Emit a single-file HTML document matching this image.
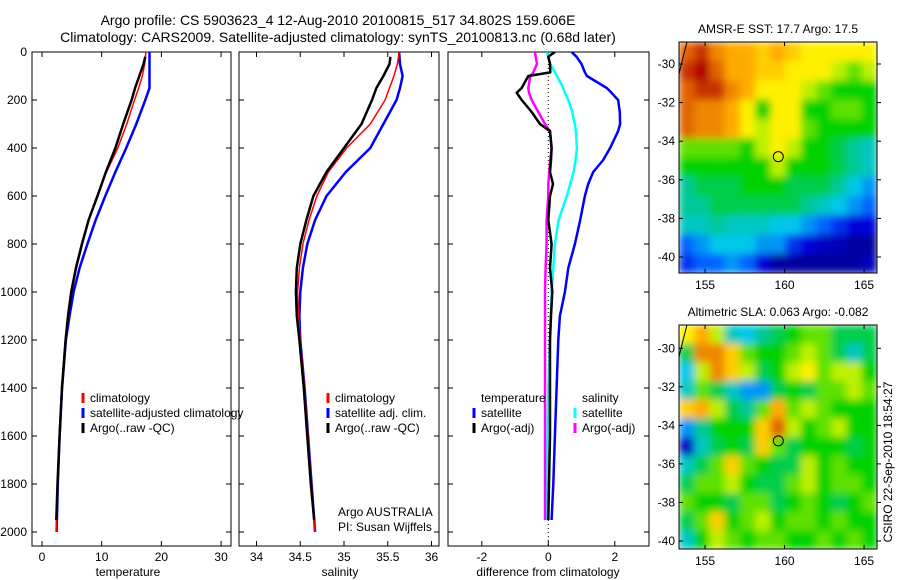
<!DOCTYPE html>
<html><head><meta charset="utf-8"><style>
body{margin:0;background:#fff;}
svg{display:block;font-family:"Liberation Sans",sans-serif;}
text{fill:#000;}
</style></head><body>
<svg id="chart" width="900" height="580" viewBox="0 0 900 580" xmlns="http://www.w3.org/2000/svg">
<defs>
<clipPath id="c1"><rect x="32" y="52" width="199" height="494"/></clipPath>
<clipPath id="c2"><rect x="239" y="52" width="200" height="494"/></clipPath>
<clipPath id="c3"><rect x="448" y="52" width="201" height="494"/></clipPath>
<clipPath id="cm1"><rect x="679" y="42" width="198" height="231"/></clipPath>
<clipPath id="cm2"><rect x="679" y="325" width="198" height="224"/></clipPath>
<filter id="bl" x="0" y="0" width="1" height="1"><feGaussianBlur stdDeviation="4" edgeMode="duplicate"/></filter>
</defs>
<text x="338" y="25" font-size="14" text-anchor="middle">Argo profile: CS 5903623_4 12-Aug-2010 20100815_517 34.802S 159.606E</text>
<text x="338" y="42" font-size="14" text-anchor="middle">Climatology: CARS2009. Satellite-adjusted climatology: synTS_20100813.nc (0.68d later)</text>
<g id="g"></g>
</svg>
<script>
// ---- data ----
const depthT = [0,50,100,150,200,300,400,500,600,700,800,900,1000,1100,1200,1400,1600,1800,2000];
const tempClim = [17.4,17.2,16.8,16.2,15.5,14.2,12.7,10.8,9.2,7.8,6.6,5.6,4.8,4.3,3.9,3.3,2.9,2.6,2.4];
const tempSat = [18.0,18.0,18.0,18.0,17.3,15.8,14.1,12.3,10.6,9.0,7.6,6.3,5.3,4.6,4.0,3.35,2.95,2.65,2.45];
const depthArgo = [20,50,100,150,200,300,400,500,600,700,800,900,1000,1100,1200,1400,1600,1800,1950];
const tempArgo = [17.3,17.0,16.3,15.6,15.0,13.6,12.3,10.7,9.3,7.8,6.7,5.7,4.9,4.35,3.95,3.35,2.95,2.6,2.4];
const salClim = [35.63,35.61,35.57,35.52,35.47,35.3,35.03,34.82,34.69,34.6,34.53,34.49,34.47,34.48,34.5,34.55,34.59,34.63,34.67];
const salSat = [35.63,35.64,35.67,35.64,35.6,35.45,35.3,35.02,34.8,34.67,34.58,34.53,34.5,34.49,34.5,34.55,34.59,34.63,34.67];
const salArgo = [35.53,35.52,35.45,35.37,35.32,35.2,35.0,34.8,34.65,34.57,34.5,34.46,34.45,34.46,34.49,34.54,34.58,34.62,34.66];
const dDepth = [0,20,50,85,100,150,170,200,250,300,330,400,450,500,550,600,700,800,900,1000,1100,1200,1400,1600,1800,1950];
const dTempSat = [0.7,0.85,1.0,1.1,1.16,1.76,1.9,2.1,2.15,2.16,2.1,1.86,1.65,1.35,1.2,1.1,0.96,0.8,0.6,0.5,0.35,0.3,0.25,0.2,0.15,0.1];
const dSalSat = [-0.04,0.0,0.06,0.2,0.26,0.45,0.5,0.6,0.72,0.8,0.83,0.86,0.82,0.76,0.66,0.56,0.31,0.2,0.15,0.1,0.07,0.05,0.0,-0.02,-0.04,-0.05];
const dTempArgo = [0.2,0.0,0.05,0.06,-0.6,-0.8,-0.95,-0.8,-0.5,-0.25,0.05,0.1,0.08,0.05,0.14,0.05,0.0,0.1,0.05,0.12,0.08,0.05,0.05,0.05,0.02,0.0];
const dSalArgo = [-0.4,-0.38,-0.34,-0.45,-0.54,-0.6,-0.58,-0.5,-0.3,-0.1,0.05,0.1,0.06,0.03,0.0,0.0,-0.05,-0.05,-0.08,-0.1,-0.1,-0.1,-0.1,-0.1,-0.1,-0.1];
const depthTicks = [0,200,400,600,800,1000,1200,1400,1600,1800,2000];
const tempTicks = [0,10,20,30];
const salTicks = [34,34.5,35,35.5,36];
const salTickLabels = ["34","34.5","35","35.5","36"];
const diffTicks = [-2,0,2];
const sstGrid = [
[9,9.5,8.5,8,8,7.5,8,7.5,7,7,7,7,7],
[9.5,10,9,8,8,7.5,7.5,7,7,7,6.5,6,6.5],
[9,9.5,9.5,8.5,8,7,7,7,6.5,6,5.5,5.5,5.5],
[9,8.5,8.5,8,7,5.5,7,7,5.5,5.5,6,6,5.5],
[9,8.5,8.5,8,7,6.5,7,7,6,5.5,5.5,5.5,5.5],
[6,6,6,6,5.5,6.5,7,6.5,5.5,5.5,5,4.5,4],
[5.5,5.5,5.5,5.5,5.5,5.5,6.5,5.5,5.5,5.5,5,4.5,4],
[4.5,5,5,5,5.5,5.5,5.5,5,5,5,4.5,3.5,3],
[4.5,4.5,5,5,5,5,5,5,4.5,4,3.5,3,2.5],
[4,4,4.5,4,4,4,3.5,3.5,3,2.5,2,1.5,1.5],
[2.5,3,3.5,3.5,3.5,3,3,2,1.5,1,1,0.5,0.5],
[2,2.5,2.5,3,2.5,1.5,0.5,0.5,0.5,0.5,0.5,0.5,1]];
const slaGrid = [
[7,8,6.5,4,3.5,4.5,5,5.5,6,6,5,5,5],
[5,8.5,8.5,7.5,6,5.5,5.5,6,6.5,6,5,4,5],
[3.5,6.5,8.5,7.5,6.5,5,5.5,6.5,7,6,6.5,6.5,5.5],
[4,6,5,4,3,3,5,5.5,5,6,6,6.5,6],
[7.5,8,6.5,5,4.5,6,8,6,6.5,6,5.5,5.5,5.5],
[3,4.5,5.5,5.5,5.5,7.5,9,6.5,5.5,6,6.5,5.5,5.5],
[1,4,5,5.5,5,7.5,6,5,5.5,5.5,5.5,5,5.5],
[4,5,6,7.5,6,5.5,5,5,6.5,5.5,6,5.5,5.5],
[5,6,6,6.5,5.5,5,5,6,6.5,5.5,6,6,5.5],
[6,5.5,5.5,5,6,6,5,5.5,6,5.5,5,5.5,6],
[5,6,7.5,5.5,6,6.5,5.5,6,6,5.5,6,5.5,5.5],
[4,5.5,6.5,6,5.5,6,6,5.5,5.5,6,5.5,6,5.5]];
const lonTicks = [155,160,165];
const latTicks = [-30,-32,-34,-36,-38,-40];
const argoLon = 159.606, argoLat = -34.802;

// ---- helpers ----
const NS="http://www.w3.org/2000/svg";
const G=document.getElementById('g');
function mk(tag,attrs,parent,txt){const e=document.createElementNS(NS,tag);for(const k in attrs)e.setAttribute(k,attrs[k]);if(txt!==undefined)e.textContent=txt;(parent||G).appendChild(e);return e;}
const yD = d => 52 + d*0.24;
const xT = t => 42 + t*5.97;
const xS = s => 239 + (s-33.8)*87.5;
const xDf = v => 548.3 + v*33.25;

function frame(x0,x1,y0,y1,name){
  const r=mk('rect',{x:x0,y:y0,width:x1-x0,height:y1-y0,fill:'none',stroke:'#000','stroke-width':1});
  
  
}
function panel(x0,x1,xs,xticks,xlabels,xf,label,lx,showY){
  frame(x0,x1,52,546,label.replace(/ /g,'-')+'-panel-frame');
  xticks.forEach((t,i)=>{
    const x=xf(t);
    mk('line',{x1:x,x2:x,y1:546,y2:541,stroke:'#000'});
    mk('line',{x1:x,x2:x,y1:52,y2:57,stroke:'#000'});
    const tx=mk('text',{x:x,y:561,'font-size':12,'text-anchor':'middle'},G,xlabels[i]);
    
    
  });
  depthTicks.forEach(d=>{
    const y=yD(d);
    mk('line',{x1:x0,x2:x0+5,y1:y,y2:y,stroke:'#000'});
    mk('line',{x1:x1,x2:x1-5,y1:y,y2:y,stroke:'#000'});
    if(showY){const t=mk('text',{x:27,y:y+4,'font-size':12,'text-anchor':'end'},G,String(d));
      
      }
  });
  const xl=mk('text',{x:lx,y:576,'font-size':12,'text-anchor':'middle'},G,label);
  
  
}
function series(xs,ds,xf,color,w,clip,name){
  const pts=xs.map((v,i)=>xf(v).toFixed(1)+','+yD(ds[i]).toFixed(1)).join(' ');
  const p=mk('polyline',{points:pts,fill:'none',stroke:color,'stroke-width':w,'clip-path':'url(#'+clip+')','stroke-linejoin':'round'});
  
  
}
function legendEntry(mx,y,color,txt,name){
  const g=mk('g',{});
  
  
  if(color) mk('line',{x1:mx,x2:mx,y1:y-9,y2:y+1,stroke:color,'stroke-width':3},g);
  mk('text',{x:mx+7,y:y,'font-size':12},g,txt);
}

// Panel 1: temperature
panel(32,231,[],tempTicks,tempTicks.map(String),xT,'temperature',128,true);
series(tempSat,depthT,xT,'#0000ff',2.5,'c1','temp-satellite-line');
series(tempClim,depthT,xT,'#ff0000',1.5,'c1','temp-climatology-line');
series(tempArgo,depthArgo,xT,'#000000',2.5,'c1','temp-argo-line');
legendEntry(83,402,'#ff0000','climatology','legend-climatology');
legendEntry(83,417,'#0000ff','satellite-adjusted climatology','legend-satellite-adjusted');
legendEntry(83,432,'#000000','Argo(..raw -QC)','legend-argo');

// Panel 2: salinity
panel(239,439,[],salTicks,salTickLabels,xS,'salinity',340,false);
series(salSat,depthT,xS,'#0000ff',2.5,'c2','sal-satellite-line');
series(salClim,depthT,xS,'#ff0000',1.5,'c2','sal-climatology-line');
series(salArgo,depthArgo,xS,'#000000',2.5,'c2','sal-argo-line');
legendEntry(328,402,'#ff0000','climatology','legend-sal-climatology');
legendEntry(328,417,'#0000ff','satellite adj. clim.','legend-sal-satellite');
legendEntry(328,432,'#000000','Argo(..raw -QC)','legend-sal-argo');
legendEntry(331,516,null,'Argo AUSTRALIA','argo-australia-note');
legendEntry(331,531,null,'PI: Susan Wijffels','pi-note');

// Panel 3: difference
panel(448,649,[],diffTicks,diffTicks.map(String),xDf,'difference from climatology',548,false);
mk('line',{x1:xDf(0),x2:xDf(0),y1:52,y2:546,stroke:'#000','stroke-dasharray':'1,3'});
series(dTempSat,dDepth,xDf,'#0000ff',2.5,'c3','diff-temp-satellite-line');
series(dSalSat,dDepth,xDf,'#00ffff',2.5,'c3','diff-sal-satellite-line');
series(dSalArgo,dDepth,xDf,'#ff00ff',2.5,'c3','diff-sal-argo-line');
series(dTempArgo,dDepth,xDf,'#000000',2.5,'c3','diff-temp-argo-line');
legendEntry(474,402,null,'temperature','legend-temperature-header');
legendEntry(474,417,'#0000ff','satellite','legend-temp-satellite');
legendEntry(474,432,'#000000','Argo(-adj)','legend-temp-argo');
legendEntry(575,402,null,'salinity','legend-salinity-header');
legendEntry(575,417,'#00ffff','satellite','legend-sal-satellite-diff');
legendEntry(575,432,'#ff00ff','Argo(-adj)','legend-sal-argo-diff');

// Maps
const cmapStops=[[0,0,0,128],[1.5,0,0,220],[2.5,0,100,255],[3.5,0,200,235],[4.5,0,200,150],[5.5,0,210,0],[6.5,190,240,0],[7,255,240,0],[8,255,170,0],[9,225,100,0],[10,175,0,0]];
function cmap(v){v=Math.max(0,Math.min(10,v));
  for(let i=1;i<cmapStops.length;i++){const a=cmapStops[i-1],b=cmapStops[i];
    if(v<=b[0]){const f=(v-a[0])/(b[0]-a[0]);
      return 'rgb('+[1,2,3].map(k=>Math.round(a[k]+(b[k]-a[k])*f)).join(',')+')';}}
  return 'rgb(175,0,0)';}
function map(grid,x0,x1,y0,y1,lat30y,pxPerLat,clip,title,name){
  const lonX=l=>679.3+(l-153.38)*15.9;
  const latY=l=>lat30y+(-30-l)*pxPerLat;
  const rows=grid.length, cols=grid[0].length;
  const cw=(x1-x0)/cols, ch=(y1-y0)/rows;
  const g=mk('g',{'clip-path':'url(#'+clip+')'});
  
  
  const gb=mk('g',{filter:'url(#bl)'},g);
  grid.forEach((row,r)=>row.forEach((v,c)=>{
    const cell=mk('rect',{x:x0+c*cw,y:y0+r*ch,width:cw+0.5,height:ch+0.5,fill:cmap(v)},gb);
    
    
  }));
  mk('path',{d:'M'+(x0+8)+','+y0+' Q'+(x0+4)+','+(y0+15)+' '+x0+','+(y0+32),fill:'none',stroke:'#000'},g);
  const ci=mk('circle',{cx:lonX(argoLon),cy:latY(argoLat),r:5,fill:'none',stroke:'#000','stroke-width':1});
  
  
  frame(x0,x1,y0,y1,name+'-frame');
  lonTicks.forEach(l=>{const x=lonX(l);
    mk('line',{x1:x,x2:x,y1:y1,y2:y1-4,stroke:'#000'});
    mk('line',{x1:x,x2:x,y1:y0,y2:y0+4,stroke:'#000'});
    const t=mk('text',{x:x,y:y1+16,'font-size':12,'text-anchor':'middle'},G,String(l));
    
    });
  latTicks.forEach(l=>{const y=latY(l);
    mk('line',{x1:x0,x2:x0+4,y1:y,y2:y,stroke:'#000'});
    mk('line',{x1:x1,x2:x1+4,y1:y,y2:y,stroke:'#000'});
    const t=mk('text',{x:x0-4,y:y+4,'font-size':12,'text-anchor':'end'},G,String(l));
    
    });
  const tt=mk('text',{x:(x0+x1)/2,y:y0-9,'font-size':12,'text-anchor':'middle'},G,title);
  
  
}
map(sstGrid,679,877,42,273,64,19.3,'cm1','AMSR-E SST: 17.7 Argo: 17.5','sst-map');
map(slaGrid,679,877,325,549,348.3,19.27,'cm2','Altimetric SLA: 0.063 Argo: -0.082','sla-map');
const st=mk('text',{x:0,y:0,'font-size':12,'text-anchor':'middle',transform:'translate(892,462) rotate(-90)'},G,'CSIRO 22-Sep-2010 18:54:27');


</script>
</body></html>
